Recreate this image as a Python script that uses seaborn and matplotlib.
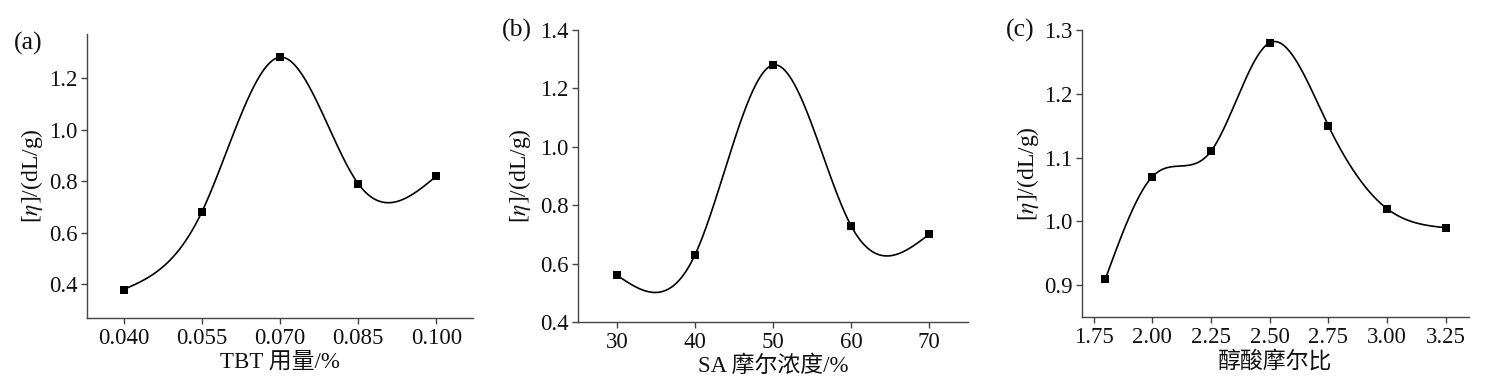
import numpy as np
import pandas as pd
import matplotlib
matplotlib.use("Agg")
import matplotlib.pyplot as plt
import seaborn as sns

# ---- data ----
tbt_x = [0.040, 0.055, 0.070, 0.085, 0.100]
tbt_y = [0.38, 0.68, 1.28, 0.79, 0.82]
sa_x = [30, 40, 50, 60, 70]
sa_y = [0.56, 0.63, 1.28, 0.73, 0.70]
ratio_x = [1.80, 2.00, 2.25, 2.50, 2.75, 3.00, 3.25]
ratio_y = [0.91, 1.07, 1.11, 1.28, 1.15, 1.02, 0.99]

panel_labels = ["(a)", "(b)", "(c)"]
x_labels = ["TBT 用量/%", "SA 摩尔浓度/%", "醇酸摩尔比"]
y_label = r"[$\eta$]/(dL/g)"

sns.set_style("ticks")
plt.rcParams['font.family'] = ['Liberation Serif', 'Noto Sans CJK SC', 'DejaVu Sans']
plt.rcParams['mathtext.fontset'] = 'stix'


def natural_spline(x, y, n=400):
    x = np.asarray(x, float)
    y = np.asarray(y, float)
    k = len(x)
    h = np.diff(x)
    A = np.zeros((k, k))
    b = np.zeros(k)
    A[0, 0] = 1
    A[-1, -1] = 1
    for i in range(1, k - 1):
        A[i, i - 1] = h[i - 1]
        A[i, i] = 2 * (h[i - 1] + h[i])
        A[i, i + 1] = h[i]
        b[i] = 3 * ((y[i + 1] - y[i]) / h[i] - (y[i] - y[i - 1]) / h[i - 1])
    c = np.linalg.solve(A, b)
    xs = np.linspace(x[0], x[-1], n)
    ys = np.empty_like(xs)
    for j, xv in enumerate(xs):
        i = min(np.searchsorted(x, xv, side='right') - 1, k - 2)
        i = max(i, 0)
        bi = (y[i + 1] - y[i]) / h[i] - h[i] * (2 * c[i] + c[i + 1]) / 3
        di = (c[i + 1] - c[i]) / (3 * h[i])
        dx = xv - x[i]
        ys[j] = y[i] + bi * dx + c[i] * dx ** 2 + di * dx ** 3
    return xs, ys


fig = plt.figure(figsize=(14.92, 3.8), dpi=100)
rects = [
    [87 / 1492, 1 - 318 / 380, (473 - 87) / 1492, (318 - 34) / 380],
    [578 / 1492, 1 - 322 / 380, (968 - 578) / 1492, (322 - 30) / 380],
    [1082 / 1492, 1 - 317 / 380, (1469 - 1082) / 1492, (317 - 30) / 380],
]
datasets = [(tbt_x, tbt_y), (sa_x, sa_y), (ratio_x, ratio_y)]
xlims = [(0.033, 0.107), (25, 75), (1.70, 3.35)]
ylims = [(0.27, 1.37), (0.4, 1.4), (0.85, 1.3)]
xticks = [tbt_x, sa_x, [1.75, 2.00, 2.25, 2.50, 2.75, 3.00, 3.25]]
xfmt = ["{:.3f}", "{:d}", "{:.2f}"]
yticks = [[0.4, 0.6, 0.8, 1.0, 1.2], [0.4, 0.6, 0.8, 1.0, 1.2, 1.4], [0.9, 1.0, 1.1, 1.2, 1.3]]
lab_pos = [(14 / 1492, 1 - 43 / 380), (502 / 1492, 1 - 30 / 380), (1006 / 1492, 1 - 30 / 380)]
ylab_x = [32, 520, 1028]

for i in range(3):
    ax = fig.add_axes(rects[i])
    xd, yd = datasets[i]
    xs, ys = natural_spline(xd, yd)
    sns.lineplot(x=xs, y=ys, ax=ax, color='black', linewidth=1.2, sort=False)
    sns.scatterplot(x=xd, y=yd, ax=ax, marker='s', color='black', s=36, edgecolor='black', linewidth=0, zorder=3)
    ax.set_xlim(*xlims[i])
    ax.set_ylim(*ylims[i])
    ax.set_xticks(xticks[i])
    ax.set_xticklabels([xfmt[i].format(v) for v in xticks[i]])
    ax.set_yticks(yticks[i])
    ax.set_yticklabels(["{:.1f}".format(v) for v in yticks[i]])
    sns.despine(ax=ax)
    for s in ['left', 'bottom']:
        ax.spines[s].set_color('#444444')
        ax.spines[s].set_linewidth(1.0)
    ax.tick_params(axis='both', direction='out', length=4, width=1.0, color='#444444',
                   labelsize=16.5, pad=3, labelcolor='#111111')
    ax.set_xlabel(x_labels[i], fontsize=16.5, color='#111111', labelpad=2)
    ax.set_ylabel("")
    fig.text(ylab_x[i] / 1492, rects[i][1] + rects[i][3] / 2, y_label,
             rotation=90, ha='center', va='center', fontsize=17, color='#111111')
    fig.text(lab_pos[i][0], lab_pos[i][1], panel_labels[i], fontsize=18.5, ha='left', va='center',
             color='#111111')

fig.savefig("out.png", dpi=100)
